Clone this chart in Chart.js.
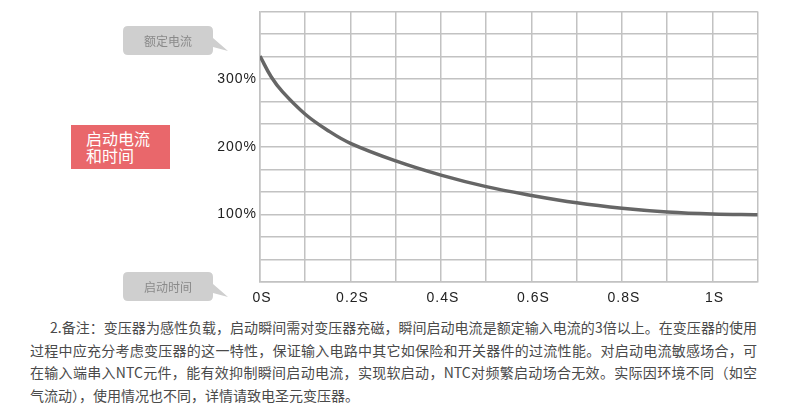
<!DOCTYPE html>
<html>
<head>
<meta charset="utf-8">
<script src="https://cdn.jsdelivr.net/npm/chart.js@4.4.1/dist/chart.umd.min.js"></script>
<style>
  html, body { margin: 0; padding: 0; background: #fff; }
  body { width: 790px; height: 409px; position: relative; overflow: hidden;
         font-family: "Noto Sans CJK SC", "Liberation Sans", sans-serif; }
  #wrap { position: absolute; left: 0; top: 0; width: 790px; height: 305px; }
  .bubble { position: absolute; width: 110px; height: 32px; }
  .bubble svg { position: absolute; left: 0; top: 0; }
  .bubble span { position: absolute; left: 0; width: 90px; top: 0; height: 29px; line-height: 29px;
                 text-align: center; font-size: 12px; color: #8a8a8a; }
  #tag { position: absolute; left: 71px; top: 125px; width: 99px; height: 44px;
         background: #e9676b; color: #fff; font-size: 16px; line-height: 17px;
         box-sizing: border-box; padding: 5px 0 0 15px; }
  #note { position: absolute; left: 30px; top: 316px; width: 727px;
          font-size: 14px; line-height: 22.7px; color: #4a4a4a; }
  #note div { white-space: nowrap; text-align: justify; text-align-last: justify; }
  #note div.first { padding-left: 20px; }
  #note div.last { text-align-last: left; }
</style>
</head>
<body>
<div id="wrap"><canvas id="inrushChart"></canvas></div>

<div class="bubble" style="left:123px; top:26px;">
  <svg width="110" height="32"><path d="M5 0 H85 Q90 0 90 5 V12 L105 25 L90 21 V24 Q90 29 85 29 H5 Q0 29 0 24 V5 Q0 0 5 0 Z" fill="#cfcfcf"/></svg>
  <span>额定电流</span>
</div>
<div class="bubble" style="left:123px; top:272px;">
  <svg width="110" height="32"><path d="M5 0 H85 Q90 0 90 5 V12 L105 25 L90 21 V24 Q90 29 85 29 H5 Q0 29 0 24 V5 Q0 0 5 0 Z" fill="#cfcfcf"/></svg>
  <span>启动时间</span>
</div>

<div id="tag">启动电流<br>和时间</div>

<div id="note">
  <div class="first">2.备注：变压器为感性负载，启动瞬间需对变压器充磁，瞬间启动电流是额定输入电流的3倍以上。在变压器的使用</div>
  <div>过程中应充分考虑变压器的这一特性，保证输入电路中其它如保险和开关器件的过流性能。对启动电流敏感场合，可</div>
  <div>在输入端串入NTC元件，能有效抑制瞬间启动电流，实现软启动，NTC对频繁启动场合无效。实际因环境不同（如空</div>
  <div class="last">气流动），使用情况也不同，详情请致电圣元变压器。</div>
</div>

<script>
// data (time in seconds, current in % of rated)
const timeS = [0, 0.025, 0.05, 0.1, 0.15, 0.2, 0.3, 0.4, 0.5, 0.6, 0.7, 0.8, 0.9, 1.0, 1.1];
const currentPct = [334, 303, 281, 248, 224, 205, 179, 158, 141, 128, 117, 109, 103.5, 100.5, 99.5];

// x grid every 0.1s, labels on every other line
const xTickValues = [0, 0.1, 0.2, 0.3, 0.4, 0.5, 0.6, 0.7, 0.8, 0.9, 1.0, 1.1];
const xTickLabels = ['0S', '', '0.2S', '', '0.4S', '', '0.6S', '', '0.8S', '', '1S', ''];

// y grid every 1/3 of 100%
const yTickValues = [0, 1, 2, 3, 4, 5, 6, 7, 8, 9, 10, 11, 12].map(i => i * 100 / 3);
const yTickLabels = ['', '', '', '100%', '', '', '200%', '', '', '300%', '', '', ''];

const gridColor = '#c2c2c2';

document.addEventListener('DOMContentLoaded', function() {
    const ctx = document.getElementById('inrushChart').getContext('2d');

    // wider letter spacing for the tick labels
    const spacing = {
        id: 'spacing',
        beforeDraw(chart) { chart.ctx.letterSpacing = '1px'; }
    };

    new Chart(ctx, {
        type: 'line',
        data: {
            datasets: [{
                data: timeS.map((t, i) => ({ x: t, y: currentPct[i] })),
                borderColor: '#666666',
                borderWidth: 3.5,
                pointRadius: 0,
                fill: false,
                tension: 0.4
            }]
        },
        plugins: [spacing],
        options: {
            responsive: true,
            maintainAspectRatio: false,
            animation: false,
            layout: {
                padding: { left: 0, right: 32.3, top: 10.7, bottom: 0 }
            },
            scales: {
                x: {
                    type: 'linear',
                    min: 0,
                    max: 1.1,
                    afterBuildTicks(scale) {
                        scale.ticks = xTickValues.map(v => ({ value: v }));
                    },
                    afterFit(scale) { scale.height = 23; },
                    grid: { color: gridColor, lineWidth: 1.5, drawTicks: false },
                    border: { color: gridColor, width: 1.5 },
                    ticks: {
                        autoSkip: false,
                        maxRotation: 0,
                        padding: 8,
                        labelOffset: 2,
                        color: '#222',
                        font: { family: 'Liberation Sans', size: 14 },
                        callback: (v, i) => xTickLabels[i]
                    }
                },
                y: {
                    min: 0,
                    max: 400,
                    afterBuildTicks(scale) {
                        scale.ticks = yTickValues.map(v => ({ value: v }));
                    },
                    afterFit(scale) { scale.width = 260; },
                    grid: { color: gridColor, lineWidth: 1.5, drawTicks: false },
                    border: { color: gridColor, width: 1.5 },
                    ticks: {
                        autoSkip: false,
                        padding: 3,
                        color: '#222',
                        font: { family: 'Liberation Sans', size: 14 },
                        callback: (v, i) => yTickLabels[i]
                    }
                }
            },
            plugins: {
                legend: { display: false },
                tooltip: { enabled: false }
            }
        }
    });
});
</script>
</body>
</html>
